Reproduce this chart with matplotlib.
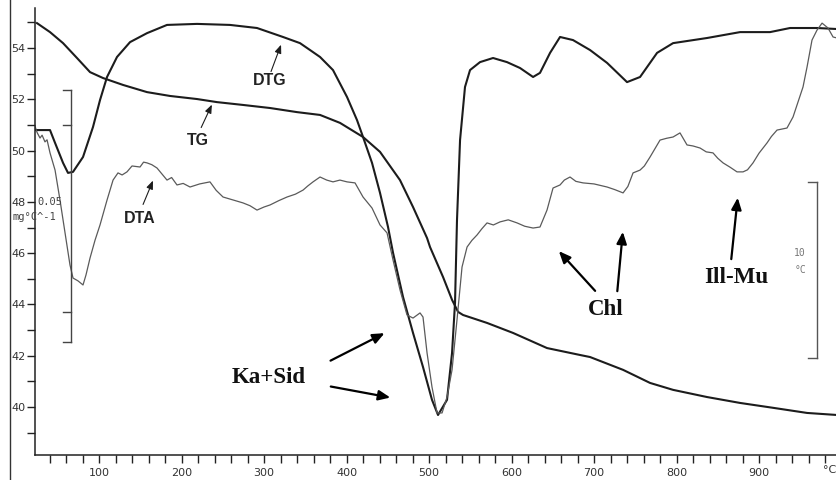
import matplotlib
matplotlib.use("Agg")
import matplotlib.pyplot as plt
from matplotlib.lines import Line2D
import numpy as np

# thermogravimetric curve (TG)
tg_temp = [24.8, 40.6, 56.4, 73.3, 89.1, 104.8, 129.1, 158.2, 186.1, 218.8, 243.0,
           274.5, 307.3, 340.0, 367.9, 392.1, 420.0, 440.6, 464.8, 480.6, 497.6,
           501.2, 517.0, 527.9, 535.2, 541.2, 570.3, 601.8, 643.0, 683.0, 695.2,
           735.2, 767.9, 795.8, 837.0, 877.0, 917.0, 958.2, 994.5]
tg_val = [54.97, 54.62, 54.19, 53.61, 53.06, 52.83, 52.56, 52.28, 52.13, 52.01, 51.89,
          51.78, 51.66, 51.50, 51.39, 51.08, 50.53, 49.95, 48.85, 47.80, 46.59,
          46.24, 45.07, 44.18, 43.71, 43.59, 43.28, 42.89, 42.30, 42.03, 41.95,
          41.45, 40.94, 40.67, 40.39, 40.16, 39.97, 39.77, 39.69]

# derivative curve (DTG)
dtg_temp = [22.4, 40.6, 46.7, 56.4, 62.4, 68.5, 80.6, 92.7, 101.2, 109.7, 121.8,
            137.6, 158.2, 182.4, 218.8, 258.8, 291.5, 323.0, 343.6, 355.8, 367.9,
            383.6, 400.6, 412.7, 420.0, 430.9, 440.6, 450.3, 456.4, 468.5, 480.6,
            492.7, 503.6, 510.9, 521.8, 527.9, 531.5, 533.9, 537.6, 543.6, 549.7,
            561.8, 577.6, 594.5, 610.3, 626.1, 634.5, 646.7, 658.8, 674.5, 695.2,
            715.8, 740.0, 755.8, 776.4, 795.8, 837.0, 877.0, 913.3, 937.6, 970.3, 994.5]
dtg_val = [50.80, 50.80, 50.30, 49.52, 49.13, 49.17, 49.75, 50.92, 51.97, 52.87, 53.65,
           54.23, 54.58, 54.90, 54.94, 54.90, 54.78, 54.43, 54.19, 53.92, 53.65,
           53.14, 52.09, 51.19, 50.53, 49.52, 48.35, 47.02, 46.01, 44.29, 42.89,
           41.56, 40.28, 39.69, 40.28, 42.11, 44.06, 47.29, 50.41, 52.48, 53.14,
           53.45, 53.61, 53.45, 53.22, 52.87, 53.03, 53.81, 54.43, 54.31, 53.92,
           53.42, 52.67, 52.87, 53.81, 54.19, 54.39, 54.62, 54.62, 54.78, 54.78, 54.74]

# differential thermal curve (DTA)
dta_temp = [22.4, 25.0, 28.5, 31.0, 34.5, 37.0, 40.6, 46.7, 52.7, 58.8, 64.8, 68.5,
            74.5, 80.6, 84.2, 89.1, 95.2, 101.2, 109.7, 117.0, 123.0, 128.0, 133.9,
            140.0, 149.7, 154.0, 158.2, 164.0, 170.3, 176.0, 182.4, 188.0, 194.5,
            202.0, 210.3, 222.0, 234.5, 242.0, 250.3, 262.0, 274.5, 283.0, 291.5,
            300.0, 307.3, 318.0, 327.9, 338.0, 347.3, 353.0, 359.4, 367.9, 376.0,
            383.6, 392.0, 400.6, 410.3, 420.0, 430.9, 440.6, 449.1, 456.4, 464.8,
            473.3, 480.6, 489.1, 492.7, 497.6, 503.6, 509.7, 515.8, 521.8, 527.9,
            533.9, 540.0, 546.1, 552.0, 558.2, 564.0, 570.3, 578.0, 586.1, 596.0,
            606.7, 616.0, 626.1, 634.5, 643.0, 650.3, 658.8, 664.0, 670.9, 678.0,
            686.7, 700.0, 715.8, 725.0, 735.2, 741.0, 747.3, 755.8, 761.0, 767.9,
            780.0, 788.0, 795.8, 804.2, 812.7, 820.0, 828.5, 836.0, 844.2, 850.0,
            856.4, 865.0, 873.3, 880.6, 886.0, 892.7, 900.0, 909.7, 915.0, 921.8,
            933.9, 941.2, 953.3, 958.2, 964.2, 970.3, 976.4, 983.6, 989.7, 994.5]
dta_val = [50.95, 50.70, 50.49, 50.60, 50.34, 50.42, 49.91, 49.24, 48.07, 46.79, 45.54, 45.03,
           44.92, 44.76, 45.15, 45.81, 46.51, 47.10, 48.07, 48.85, 49.13, 49.05, 49.17,
           49.40, 49.36, 49.55, 49.52, 49.45, 49.32, 49.10, 48.85, 48.95, 48.66,
           48.72, 48.58, 48.70, 48.78, 48.45, 48.19, 48.08, 47.96, 47.85, 47.68,
           47.80, 47.88, 48.05, 48.19, 48.30, 48.46, 48.62, 48.78, 48.97, 48.85,
           48.78, 48.85, 48.78, 48.74, 48.19, 47.76, 47.10, 46.79, 45.73, 44.57,
           43.59, 43.47, 43.67, 43.51, 42.11, 40.78, 39.77, 39.77, 40.39, 41.45,
           43.40, 45.46, 46.24, 46.50, 46.71, 46.95, 47.18, 47.10, 47.22, 47.30,
           47.18, 47.05, 46.98, 47.02, 47.68, 48.54, 48.66, 48.85, 48.97, 48.80,
           48.74, 48.70, 48.58, 48.48, 48.35, 48.60, 49.13, 49.24, 49.40, 49.75,
           50.41, 50.48, 50.53, 50.69, 50.22, 50.18, 50.10, 49.95, 49.91, 49.70,
           49.52, 49.35, 49.17, 49.17, 49.25, 49.52, 49.90, 50.30, 50.55, 50.80,
           50.88, 51.31, 52.48, 53.26, 54.31, 54.70, 54.97, 54.78, 54.43, 54.39]

x_major = [100, 200, 300, 400, 500, 600, 700, 800, 900]
y_major = [40, 42, 44, 46, 48, 50, 52, 54]

W, H = 837, 480
fig = plt.figure(figsize=(W / 100, H / 100), dpi=100)
fig.patch.set_facecolor("white")
ax = fig.add_axes([35 / W, 25 / H, (W - 35) / W, (455 - 8) / H])

ink = "#1c1c1c"
ax.plot(tg_temp, tg_val, color=ink, lw=1.5, solid_joinstyle="round")
ax.plot(dtg_temp, dtg_val, color=ink, lw=1.5, solid_joinstyle="round")
ax.plot(dta_temp, dta_val, color="#5a5a5a", lw=0.9)

ax.set_xlim(22.4, 994.5)
ax.set_ylim(38.13, 55.56)
for s in ("top", "right"):
    ax.spines[s].set_visible(False)
for s in ("left", "bottom"):
    ax.spines[s].set_linewidth(1.1)
    ax.spines[s].set_color("#222222")

ax.set_xticks(x_major)
ax.set_xticks(np.arange(40, 1000, 20), minor=True)
ax.set_yticks(y_major)
ax.set_yticks(np.arange(39, 56, 2), minor=True)
ax.tick_params(axis="both", which="both", direction="out", length=6, width=1.0,
               color="#222222", labelsize=8, labelcolor="#333333")
ax.tick_params(axis="x", pad=3)
ax.tick_params(axis="y", pad=1)
ax.text(978, 37.55, "°C", ha="left", va="center", fontsize=8, color="#333333",
        clip_on=False)

# outer frame line on the left
fig.add_artist(Line2D([10 / W, 10 / W], [0, 1], color="#333333", lw=1.0))

mono = "DejaVu Sans Mono"
ax.text(25, 48.0, "0.05", fontsize=7.5, family=mono, color="#444444", va="center")
ax.text(-5.4, 47.41, "mg°C^-1", fontsize=7.5, family=mono, color="#444444",
        va="center", clip_on=False)

# DTG scale bracket
bk = dict(color="#444444", lw=1.0)
ax.plot([66, 66], [52.36, 42.54], **bk)
for yy in (52.36, 51.0, 43.71, 42.54):
    ax.plot([56.4, 66], [yy, yy], **bk)

# DTA scale bracket
ax.plot([970.3, 970.3], [48.78, 41.91], color="#555555", lw=1.0)
for yy in (48.78, 41.91):
    ax.plot([959.4, 970.3], [yy, yy], color="#555555", lw=1.0)
ax.text(949.7, 46.0, "10", fontsize=7, family=mono, color="#777777", ha="center", va="center")
ax.text(949.7, 45.35, "°C", fontsize=7, family=mono, color="#777777", ha="center", va="center")

# curve labels
small = dict(arrowstyle="-|>,head_length=0.5,head_width=0.2", color=ink, lw=0.8)
lab = dict(fontsize=11.5, fontweight="bold", family="Liberation Sans", color="#222222",
           ha="center", va="center")
ax.text(307, 52.75, "DTG", **lab)
ax.annotate("", xy=(321.8, 54.23), xytext=(307.3, 52.98), arrowprops=small)
ax.text(220, 50.41, "TG", **lab)
ax.annotate("", xy=(238.2, 51.89), xytext=(222.4, 50.80), arrowprops=small)
ax.text(149.7, 47.37, "DTA", **lab)
ax.annotate("", xy=(166.7, 48.93), xytext=(152.1, 47.80), arrowprops=small)

# mineral assignments
big = dict(arrowstyle="-|>,head_length=0.7,head_width=0.3", color="black", lw=1.6)
serif = dict(fontsize=16.5, fontweight="bold", family="Liberation Serif", color="#111111",
             ha="center", va="center")
ax.text(306, 41.17, "Ka+Sid", **serif)
ax.annotate("", xy=(449.1, 42.93), xytext=(377.6, 41.76), arrowprops=big)
ax.annotate("", xy=(456.4, 40.35), xytext=(377.6, 40.82), arrowprops=big)
ax.text(714.5, 43.79, "Chl", **serif)
ax.annotate("", xy=(655.1, 46.16), xytext=(703.6, 44.45), arrowprops=big)
ax.annotate("", xy=(735.2, 46.94), xytext=(727.9, 44.41), arrowprops=big)
ax.text(872, 45.07, "Ill-Mu", **serif)
ax.annotate("", xy=(874.5, 48.27), xytext=(866, 45.66), arrowprops=big)

fig.savefig("out.png", dpi=100)
